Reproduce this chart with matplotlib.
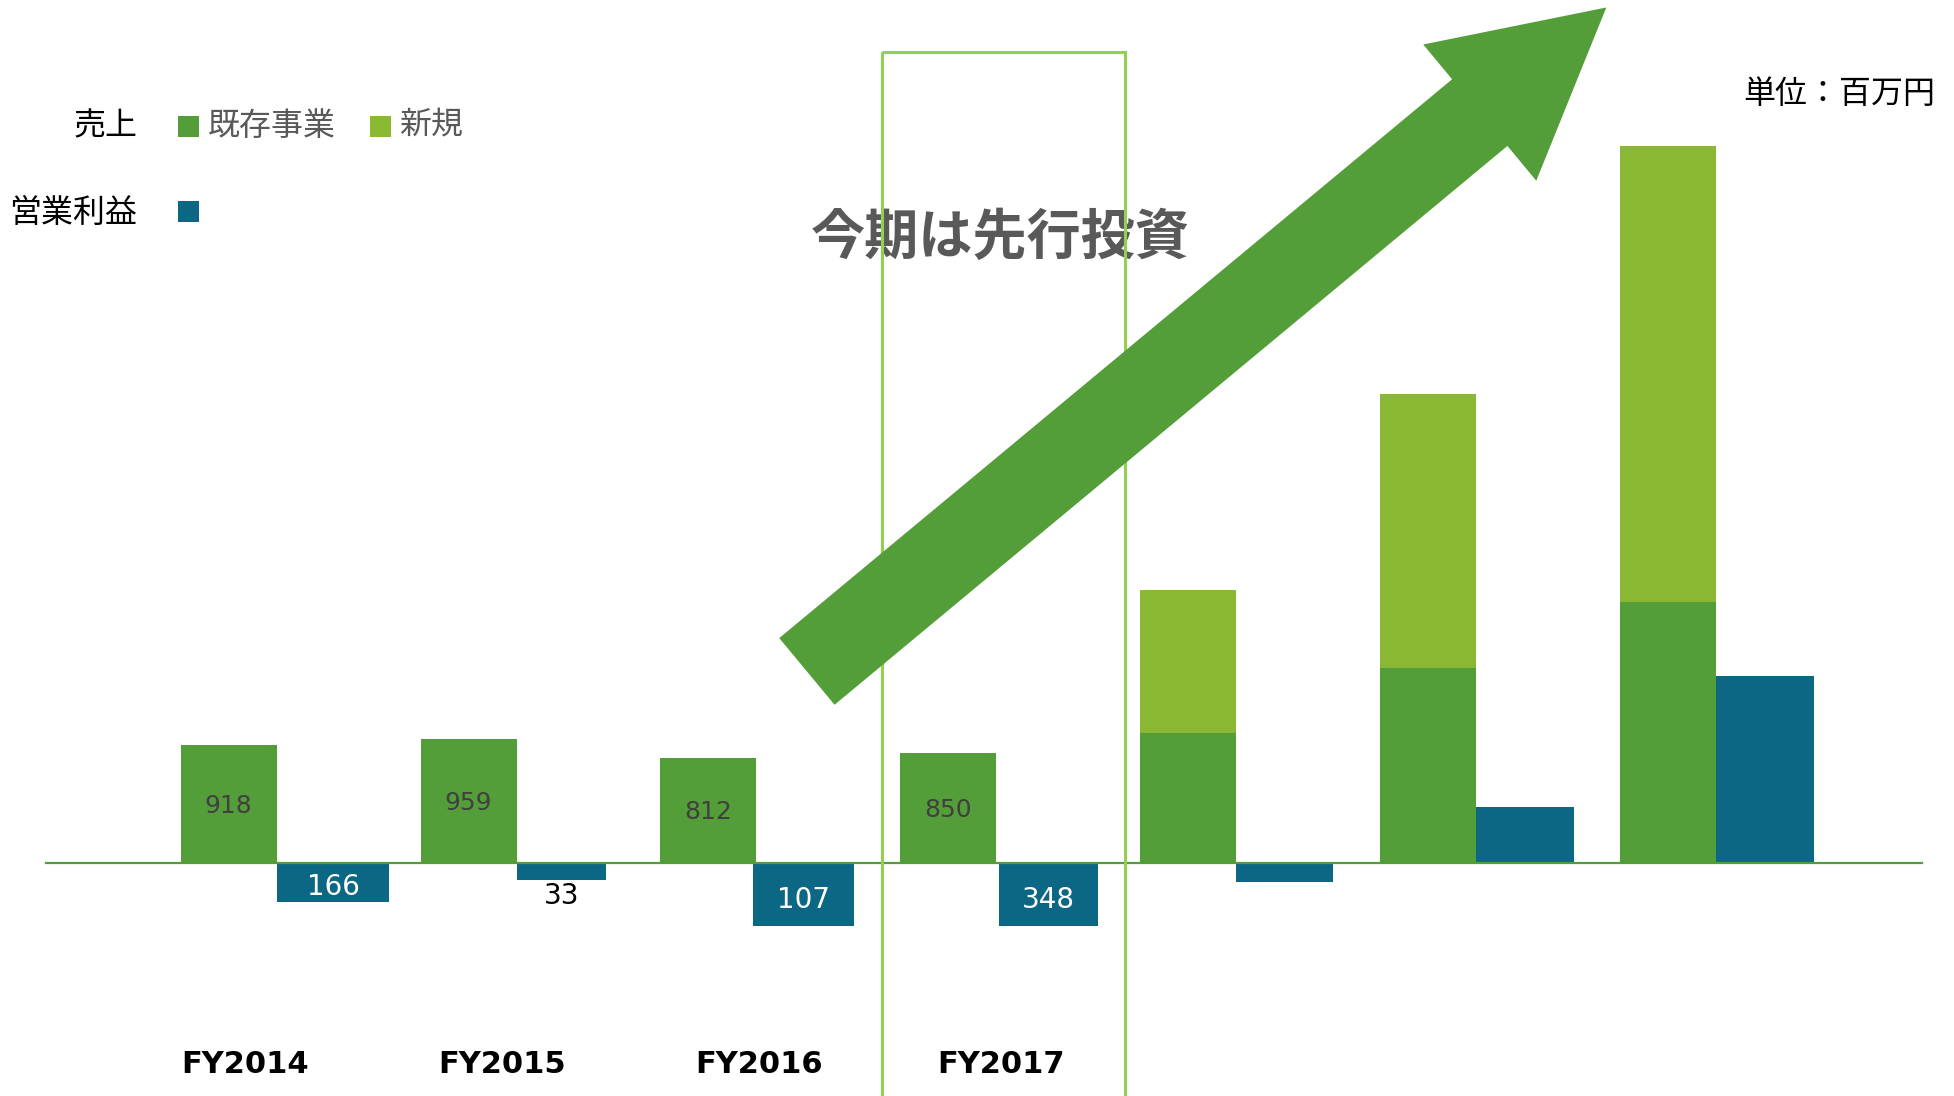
import matplotlib
matplotlib.use('Agg')
import matplotlib.pyplot as plt
from matplotlib.patches import Rectangle, FancyArrow

# data
years = ['FY2014', 'FY2015', 'FY2016', 'FY2017']
sales_existing = [918, 959, 812, 850, 1006, 1509, 2021]
sales_new = [0, 0, 0, 0, 1112, 2127, 3539]
# operating profit bars as drawn (the slide does not draw them to scale)
profit_drawn = [-300, -135, -493, -493, -145, 435, 1450]
profit_labels = ['166', '33', '107', '348']

GREEN = '#549e39'
LIGHT = '#8ab833'
BLUE = '#0b6784'
FRAME = '#92d050'
GRAY = '#595959'
JP = ['Noto Sans CJK JP', 'DejaVu Sans']

fig = plt.figure(figsize=(19.54, 10.96), dpi=100)

# main chart axes spanning the whole slide
ax = fig.add_axes([0, 0, 1, 1])
ax.set_xlim(-1.153, 6.992)
ax.set_ylim(-1808, 6692)
ax.axis('off')

n = len(sales_existing)
xs = list(range(n))
green_x = [x - 0.2 for x in xs]
blue_w = [0.47, 0.375, 0.42, 0.415, 0.405, 0.41, 0.41]
blue_left = [x + d for x, d in zip(xs, [0, 0, -0.015, 0.01, 0, 0, 0])]

ax.bar(green_x, sales_existing, width=0.4, color=GREEN, zorder=2)
ax.bar(green_x, sales_new, width=0.4, bottom=sales_existing, color=LIGHT, zorder=2)
ax.bar(blue_left, profit_drawn, width=blue_w, align='edge', color=BLUE, zorder=2)
ax.plot([-0.96, 6.86], [0, 0], color=GREEN, lw=1.6, zorder=3)

# value labels inside the existing-business bars
for i in range(len(years)):
    ax.text(green_x[i], sales_existing[i] / 2 - 15, str(sales_existing[i]),
            ha='center', va='center', fontsize=18, color='#404040', zorder=4)

# operating profit labels
for i, lab in enumerate(profit_labels):
    cx = blue_left[i] + blue_w[i] / 2
    if profit_drawn[i] > -200:
        ax.text(cx, profit_drawn[i] - 125, lab, ha='center', va='center',
                fontsize=20, color='black', zorder=4)
    else:
        ax.text(cx, profit_drawn[i] / 2 - 40, lab, ha='center', va='center',
                fontsize=20, color='white', zorder=4)

# year labels
year_nudge = [-0.13, -0.06, 0.01, 0.02]
for i, y in enumerate(years):
    ax.text(xs[i] + year_nudge[i], -1565, y, ha='center', va='center',
            fontsize=22, fontweight='bold', color='black')

# overlay axes in slide pixel units for the decorations
ov = fig.add_axes([0, 0, 1, 1])
ov.set_xlim(0, 1568)
ov.set_ylim(879, 0)
ov.axis('off')

ov.add_patch(Rectangle((708, 42), 195, 900, fill=False, edgecolor=FRAME, lw=2.2, zorder=3))
ov.add_patch(FancyArrow(647.5, 538.5, 641.5, -532.5, width=69.5, head_width=142,
                        head_length=132, length_includes_head=True,
                        color=GREEN, lw=0, zorder=4))

ov.text(803, 191, '今期は先行投資', ha='center', va='center', fontsize=39,
        fontweight='bold', color=GRAY, family=JP, zorder=2)

# legend, written by hand like on the slide
ov.text(110, 101, '売上', ha='right', va='center', fontsize=23, color='black', family=JP)
ov.text(110, 171, '営業利益', ha='right', va='center', fontsize=23, color='black', family=JP)
ov.add_patch(Rectangle((143, 93), 17, 17, color=GREEN, lw=0))
ov.text(167, 101, '既存事業', ha='left', va='center', fontsize=23, color=GRAY, family=JP)
ov.add_patch(Rectangle((297, 93), 17, 17, color=LIGHT, lw=0))
ov.text(320, 101, '新規', ha='left', va='center', fontsize=23, color=GRAY, family=JP)
ov.add_patch(Rectangle((143, 161), 17, 17, color=BLUE, lw=0))

ov.text(1399, 75, '単位：百万円', ha='left', va='center', fontsize=23, color='black', family=JP)

fig.savefig('out.png', dpi=100)
